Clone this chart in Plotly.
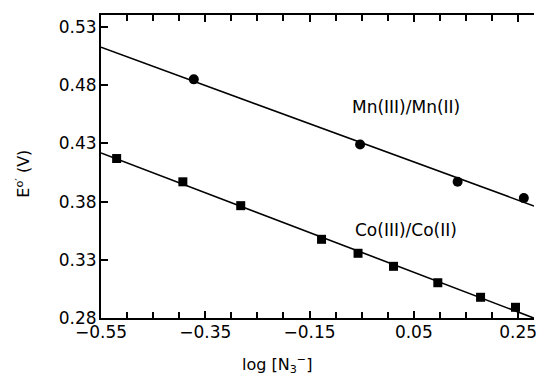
import numpy as np
import plotly.graph_objects as go

# Data
mn_x = [-0.372, -0.053, 0.134, 0.261]
mn_y = [0.485, 0.429, 0.397, 0.383]
co_x = [-0.520, -0.393, -0.282, -0.127, -0.057, 0.011, 0.096, 0.178, 0.245]
co_y = [0.417, 0.397, 0.3765, 0.3476, 0.3356, 0.3244, 0.3103, 0.2978, 0.2892]

x_tickvals = [-0.55, -0.35, -0.15, 0.05, 0.25]
x_ticktext = ["\u22120.55", "\u22120.35", "\u22120.15", "0.05", "0.25"]
y_tickvals = [0.28, 0.33, 0.38, 0.43, 0.48, 0.53]
y_ticktext = ["0.28", "0.33", "0.38", "0.43", "0.48", "0.53"]

x_range = [-0.55, 0.2805]
y_range = [0.28, 0.5403]

font = "DejaVu Sans, Liberation Sans, sans-serif"

fig = go.Figure()

# least-squares fit lines across the plotted x range
for xs, ys in [(mn_x, mn_y), (co_x, co_y)]:
    k, b = np.polyfit(xs, ys, 1)
    lx = np.array(x_range)
    fig.add_trace(go.Scatter(x=lx, y=k * lx + b, mode="lines",
                             line=dict(color="black", width=1.6),
                             showlegend=False, hoverinfo="skip"))

fig.add_trace(go.Scatter(x=mn_x, y=mn_y, mode="markers",
                         marker=dict(symbol="circle", size=10, color="black"),
                         showlegend=False))
fig.add_trace(go.Scatter(x=co_x, y=co_y, mode="markers",
                         marker=dict(symbol="square", size=9, color="black"),
                         showlegend=False))

fig.add_annotation(x=0.035, y=0.461, text="Mn(III)/Mn(II)", showarrow=False,
                   xanchor="center", yanchor="middle",
                   font=dict(family=font, size=17, color="black"))
fig.add_annotation(x=0.035, y=0.3556, text="Co(III)/Co(II)", showarrow=False,
                   xanchor="center", yanchor="middle",
                   font=dict(family=font, size=17, color="black"))

# axis titles
fig.add_annotation(xref="paper", yref="paper", x=0.406, y=-0.155,
                   xanchor="center", yanchor="middle",
                   text="log [N<sub>3</sub><sup>\u2212</sup>]", showarrow=False,
                   font=dict(family=font, size=16, color="black"))
fig.add_annotation(xref="paper", yref="paper", x=-0.181, y=0.475, textangle=-90,
                   xanchor="center", yanchor="middle",
                   text="E<sup>o\u2032</sup> (V)", showarrow=False,
                   font=dict(family=font, size=16, color="black"))

fig.update_layout(
    width=537, height=380,
    margin=dict(l=101, r=0, t=15, b=62),
    paper_bgcolor="white", plot_bgcolor="white",
    font=dict(family=font, size=17, color="black"),
    xaxis=dict(range=x_range, tickvals=x_tickvals, ticktext=x_ticktext,
               ticks="inside", ticklen=7, tickwidth=1.5, tickcolor="black",
               showline=True, linecolor="black", linewidth=2, mirror="ticks",
               showgrid=False, zeroline=False, ticklabelstandoff=-2,
               ticklabeloverflow="allow",
               minor=dict(tick0=-0.55, dtick=0.05, ticks="inside", ticklen=6,
                          tickwidth=1.5, tickcolor="black", showgrid=False)),
    yaxis=dict(range=y_range, tickvals=y_tickvals, ticktext=y_ticktext,
               ticks="inside", ticklen=7, tickwidth=1.5, tickcolor="black",
               showline=True, linecolor="black", linewidth=2,
               showgrid=False, zeroline=False, ticklabelstandoff=-1),
)

fig.write_html("out.html")
